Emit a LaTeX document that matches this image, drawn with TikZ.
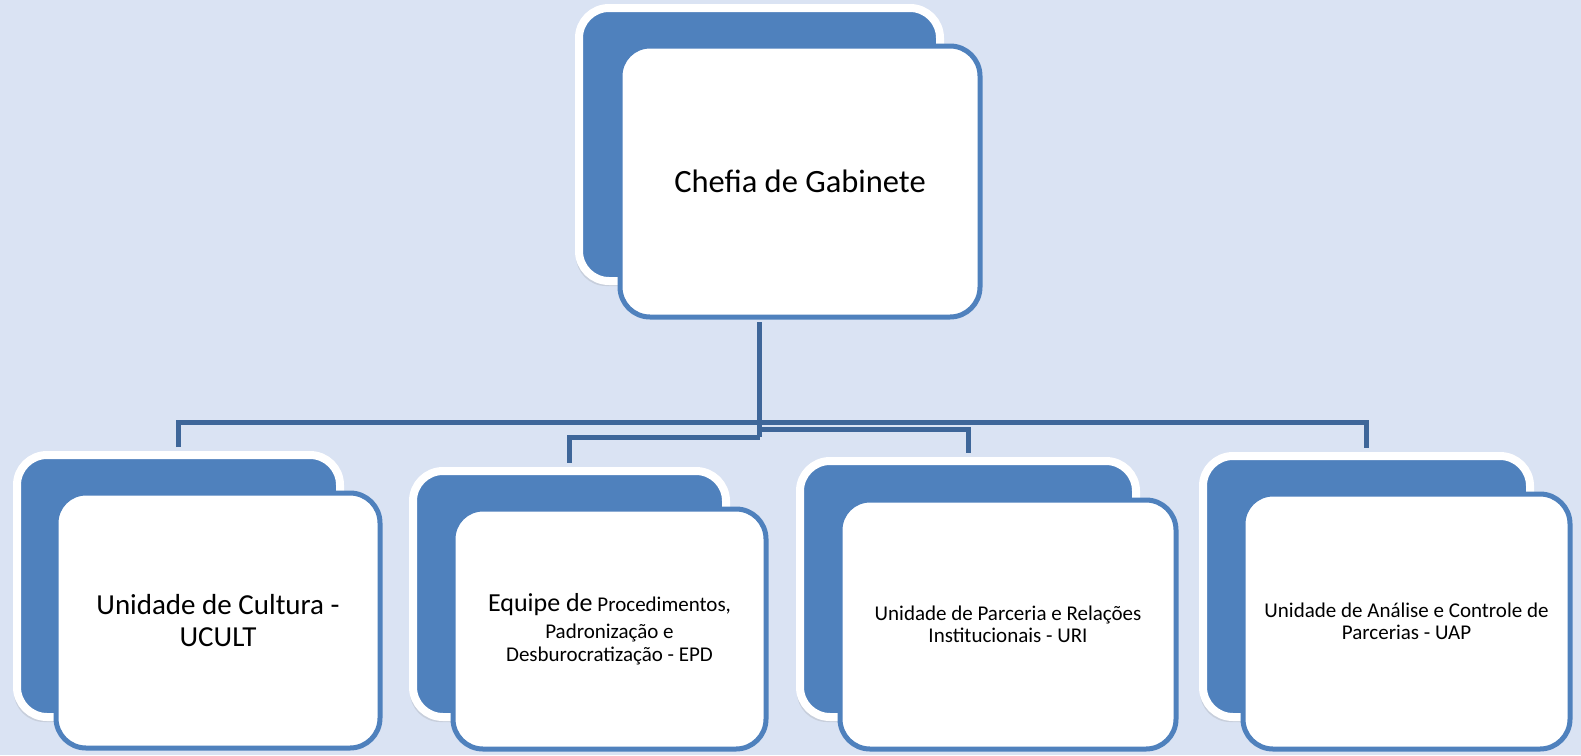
\documentclass[tikz,border=0pt]{standalone}
\usepackage{fontspec}
\setmainfont{Carlito}
\usetikzlibrary{shadows}
\definecolor{bgblue}{RGB}{218,227,243}
\definecolor{boxblue}{RGB}{79,129,189}
\definecolor{lineblue}{RGB}{62,102,153}

\begin{document}
\begin{tikzpicture}[x=1pt, y=-1pt,
            back/.style = {draw=white, line width=8pt, fill=boxblue, rounded corners=30pt, inner sep=0pt,
                drop shadow={shadow xshift=-3pt, shadow yshift=-5pt, opacity=.2}},
            front/.style = {draw=boxblue, line width=5pt, fill=white, rounded corners=30pt, inner sep=0pt,
                align=center, font=\fontsize{21}{22.5}\selectfont},
            link/.style = {draw=lineblue, line width=5pt}]
            \fill[bgblue] (0,0) rectangle (1581,755);
            \useasboundingbox (0,0) rectangle (1581,755);

            \node[back, minimum width=361pt, minimum height=273pt](chefiaB) at (759.5,144.5){};
            \node[front, minimum width=360pt, minimum height=271pt, font=\fontsize{32.5}{38}\selectfont](chefia) at (800,181.5){Chefia de Gabinete};

            \node[back, minimum width=323pt, minimum height=262pt](ucultB) at (178.5,586){};
            \node[front, minimum width=324pt, minimum height=255pt, font=\fontsize{29}{31.5}\selectfont](ucult) at (218,620.5){Unidade de Cultura -\\UCULT};

            \node[back, minimum width=313pt, minimum height=246pt](epdB) at (569.5,594){};
            \node[front, minimum width=313pt, minimum height=240pt](epd) at (609.5,629)
                {{\fontsize{26}{27}\selectfont Equipe de} Procedimentos,\\[4.5pt]Padronização e\\Desburocratização - EPD};

            \node[back, minimum width=336pt, minimum height=256pt](uriB) at (968,589){};
            \node[front, minimum width=336pt, minimum height=249pt](uri) at (1008,624.5){Unidade de Parceria e Relações\\Institucionais - URI};

            \node[back, minimum width=327pt, minimum height=261pt](uapB) at (1366.5,586.5){};
            \node[front, minimum width=327pt, minimum height=255pt](uap) at (1406.5,621.5){Unidade de Análise e Controle de\\Parcerias - UAP};

            \coordinate (j1) at (759.5,422);
            \coordinate (j3) at (759.5,429);
            \coordinate (j2) at (759.5,437);

            \draw[link, shorten <=2.5pt] (chefiaB |- chefia.south) -- (j2);
            \draw[link, shorten <=4pt, shorten >=4pt] (ucultB.north) |- (j1) -| (uapB.north);
            \draw[link, shorten >=4pt] (j2) -| (epdB.north);
            \draw[link, shorten >=4pt] (j3) -| (uriB.north);
        \end{tikzpicture}
\end{document}
